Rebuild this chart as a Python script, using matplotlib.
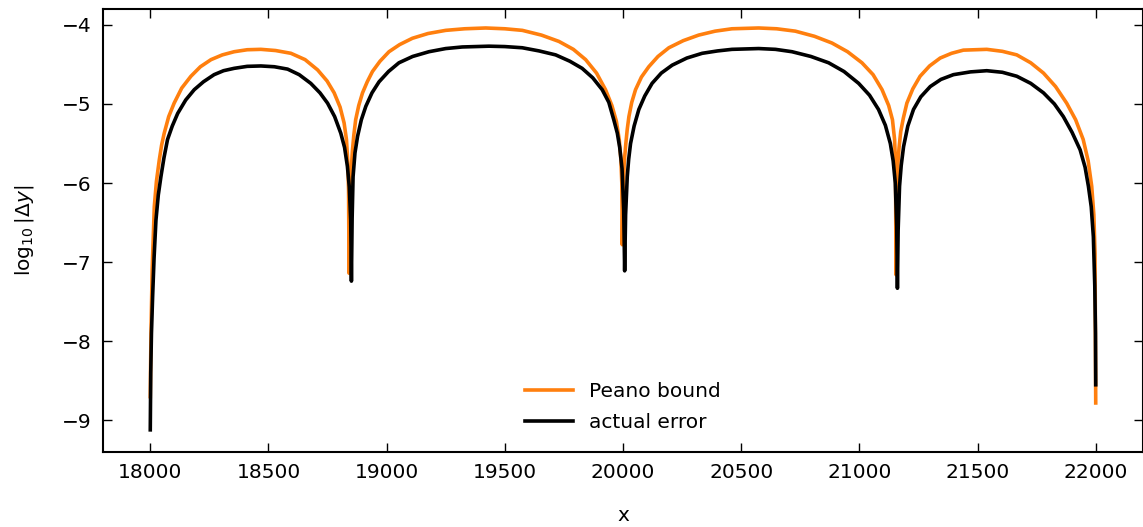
import numpy as np
import matplotlib
matplotlib.use("Agg")
import matplotlib.pyplot as plt

# values
# Peano bound (orange)
peano_x = [18000, 18003, 18008, 18017, 18026, 18038, 18048, 18059, 18078, 18101,
           18133, 18172, 18212, 18257, 18305, 18355, 18410, 18468, 18530, 18595,
           18655, 18708, 18748, 18778, 18803, 18820, 18830, 18836, 18839, 18841,
           18845, 18850, 18855, 18861, 18869, 18882, 18898, 18918, 18940, 18972,
           19010, 19055, 19109, 19175, 19250, 19330, 19419, 19500, 19574, 19655,
           19729, 19790, 19842, 19888, 19926, 19953, 19972, 19984, 19991, 19995,
           19997, 20000, 20005, 20012, 20018, 20025, 20037, 20053, 20078, 20109,
           20148, 20194, 20255, 20320, 20390, 20461, 20574, 20650, 20729, 20810,
           20884, 20950, 21011, 21058, 21096, 21124, 21140, 21149, 21153, 21155,
           21158, 21163, 21168, 21175, 21186, 21201, 21226, 21257, 21297, 21342,
           21390, 21440, 21539, 21605, 21666, 21725, 21779, 21830, 21877, 21915,
           21947, 21968, 21983, 21992, 21997, 22000]
peano_y = [-8.70, -7.90, -7.10, -6.30, -5.98, -5.71, -5.52, -5.37, -5.16, -4.99,
           -4.80, -4.65, -4.53, -4.44, -4.38, -4.34, -4.315, -4.31, -4.325, -4.36,
           -4.44, -4.57, -4.71, -4.86, -5.04, -5.24, -5.45, -5.75, -6.10, -7.14,
           -6.30, -5.85, -5.60, -5.40, -5.20, -5.02, -4.86, -4.72, -4.59, -4.46,
           -4.34, -4.25, -4.17, -4.11, -4.07, -4.05, -4.04, -4.05, -4.07, -4.13,
           -4.21, -4.31, -4.44, -4.61, -4.82, -5.02, -5.22, -5.45, -5.70, -6.00,
           -6.78, -6.20, -5.75, -5.50, -5.32, -5.16, -4.98, -4.82, -4.66, -4.53,
           -4.40, -4.29, -4.20, -4.13, -4.08, -4.05, -4.04, -4.05, -4.08, -4.145,
           -4.23, -4.34, -4.48, -4.63, -4.82, -5.02, -5.20, -5.45, -5.75, -7.16,
           -6.10, -5.75, -5.55, -5.35, -5.18, -4.99, -4.81, -4.65, -4.52, -4.42,
           -4.36, -4.32, -4.31, -4.335, -4.38, -4.48, -4.61, -4.78, -4.99, -5.20,
           -5.45, -5.72, -6.04, -6.40, -6.89, -8.78]

# actual error (black)
err_x = [18000, 18002, 18005, 18010, 18016, 18024, 18034, 18045, 18058, 18073,
         18093, 18116, 18150, 18186, 18225, 18270, 18310, 18355, 18410, 18468,
         18525, 18581, 18630, 18679, 18718, 18750, 18780, 18806, 18822, 18834,
         18842, 18848, 18851, 18854, 18858, 18866, 18877, 18893, 18912, 18938,
         18968, 19008, 19052, 19110, 19179, 19250, 19320, 19433, 19500, 19574,
         19645, 19715, 19775, 19827, 19872, 19912, 19940, 19961, 19976, 19986,
         19996, 20003, 20007, 20011, 20018, 20024, 20032, 20047, 20067, 20092,
         20123, 20162, 20208, 20270, 20335, 20400, 20461, 20574, 20645, 20715,
         20795, 20870, 20935, 20997, 21043, 21081, 21110, 21131, 21143, 21152,
         21158, 21161, 21164, 21170, 21177, 21187, 21205, 21229, 21260, 21300,
         21345, 21398, 21470, 21539, 21605, 21666, 21725, 21779, 21825, 21863,
         21900, 21934, 21955, 21969, 21981, 21990, 21996, 21999, 22000]
err_y = [-9.12, -8.40, -7.90, -7.43, -6.95, -6.47, -6.15, -5.92, -5.68, -5.45,
         -5.28, -5.12, -4.95, -4.82, -4.72, -4.63, -4.58, -4.55, -4.525, -4.52,
         -4.53, -4.56, -4.63, -4.74, -4.86, -4.99, -5.16, -5.37, -5.55, -5.79,
         -6.05, -6.47, -7.24, -6.45, -5.92, -5.62, -5.41, -5.20, -5.03, -4.86,
         -4.72, -4.59, -4.48, -4.40, -4.34, -4.30, -4.28, -4.27, -4.275, -4.29,
         -4.33, -4.38, -4.46, -4.55, -4.67, -4.82, -4.98, -5.20, -5.37, -5.55,
         -5.82, -6.34, -7.11, -6.40, -5.92, -5.70, -5.50, -5.28, -5.07, -4.90,
         -4.74, -4.61, -4.51, -4.42, -4.36, -4.33, -4.31, -4.30, -4.31, -4.34,
         -4.40, -4.48, -4.59, -4.74, -4.89, -5.07, -5.27, -5.50, -5.72, -6.00,
         -6.55, -7.33, -6.60, -6.04, -5.78, -5.54, -5.28, -5.07, -4.91, -4.78,
         -4.69, -4.63, -4.595, -4.58, -4.60, -4.65, -4.74, -4.86, -5.00, -5.16,
         -5.36, -5.58, -5.80, -6.04, -6.30, -6.68, -7.30, -7.90, -8.55]

x_ticks = [18000, 18500, 19000, 19500, 20000, 20500, 21000, 21500, 22000]
y_ticks = [-9, -8, -7, -6, -5, -4]

fig = plt.figure(figsize=(11.43, 5.27), dpi=100)
ax = fig.add_axes([103/1143, 1 - 452/527, 1 - 103/1143, (452 - 9)/527])

ax.plot(peano_x, peano_y, color='#ff7f0e', lw=2.6, label='Peano bound')
ax.plot(err_x, err_y, color='black', lw=2.6, label='actual error')

ax.set_xlim(17800, 22200)
ax.set_ylim(-9.4, -3.8)
ax.set_xticks(x_ticks)
ax.set_yticks(y_ticks)
ax.tick_params(direction='in', top=True, right=True, length=6.5, width=1,
               labelsize=14.5, pad=8)
for s in ax.spines.values():
    s.set_linewidth(1.5)

ax.set_xlabel('x', fontsize=14.5, labelpad=17)
ax.set_ylabel(r'$\log_{10}|\Delta y|$', fontsize=14.5, labelpad=19)

ax.legend(loc='lower center', frameon=False, fontsize=14.5,
          bbox_to_anchor=(0.5, 0.005), handlelength=2.4, labelspacing=0.6)

fig.savefig('out.png', dpi=100)
